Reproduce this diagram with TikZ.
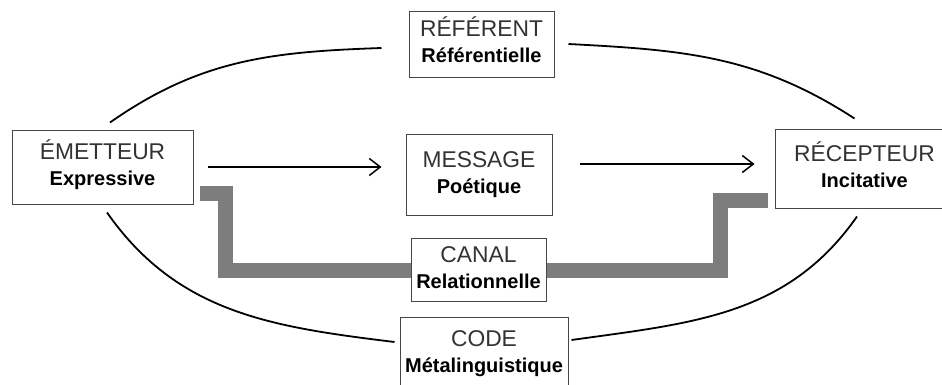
\documentclass[tikz,border=0pt]{standalone}
\usepackage{fontspec}
\setmainfont{Liberation Sans}
\usepackage{tikz}
\usetikzlibrary{arrows.meta}
\definecolor{canalgray}{RGB}{125,125,125}
\definecolor{boxline}{RGB}{70,70,70}

\begin{document}
\begin{tikzpicture}[x=1pt,y=1pt,
    fonction/.style={draw=boxline,line width=1pt,fill=white,inner sep=0pt,
      align=center,text height=41pt,text depth=5pt,
      font=\fontsize{22.8pt}{26pt}\selectfont},
    liaison/.style={line width=1.8pt},
    fleche/.style={line width=1.5pt,-{Straight Barb[length=11pt,width=17pt,line width=1.5pt]}},
    canal line/.style={canalgray,line width=15pt,line join=miter}]
      \useasboundingbox (0,0) rectangle (942,385);
      \def\haut#1{{\color{black!80}#1}}
      \def\bas#1{{\fontsize{20pt}{26pt}\selectfont\bfseries #1}}
      % les six fonctions
      \path (102.5,217) node[fonction,minimum width=181pt,minimum height=74pt] (emet) {\haut{ÉMETTEUR}\\\bas{Expressive}};
      \path (481.5,340) node[fonction,minimum width=145pt,minimum height=66pt] (ref) {\haut{RÉFÉRENT}\\\bas{Référentielle}};
      \path (479,209.5) node[fonction,minimum width=146pt,minimum height=81pt] (mess) {\haut{MESSAGE}\\\bas{Poétique}};
      \path (864.5,215.5) node[fonction,minimum width=179pt,minimum height=79pt] (recep) {\haut{RÉCEPTEUR}\\\bas{Incitative}};
      \path (478.5,114.5) node[fonction,minimum width=135pt,minimum height=63pt] (canal) {\haut{CANAL}\\\bas{Relationnelle}};
      \path (484,30) node[fonction,minimum width=168pt,minimum height=74pt] (code) {\haut{CODE}\\\bas{Métalinguistique}};
      % le canal
      \draw[canal line] ([shift={(6pt,-25.5pt)}]emet.east) -- ++(26pt,0) |- (canal.west);
      \draw[canal line] (canal.east) -- ++(174pt,0) |- ([shift={(-7pt,-31pt)}]recep.west);
      % message
      \draw[fleche,shorten <=14pt,shorten >=24pt] ([yshift=1pt]emet.east) -- ([yshift=1pt]emet.east -| mess.west);
      \draw[fleche,shorten <=27pt,shorten >=20pt] ([yshift=11.5pt]mess.east) -- ([yshift=11.5pt]mess.east -| recep.west);
      % courbes
      \draw[liaison] ([shift={(7.5pt,8pt)}]emet.north) to[out=35,in=182] ([shift={(-27pt,-3pt)}]ref.west);
      \draw[liaison] ([shift={(14pt,1pt)}]ref.east) to[out=-3,in=147] ([shift={(-10pt,11pt)}]recep.north);
      \draw[liaison] ([shift={(4.5pt,-7pt)}]emet.south) to[out=-55,in=173] ([shift={(-5pt,13pt)}]code.west);
      \draw[liaison] ([shift={(3pt,15pt)}]code.east) to[out=8,in=235] ([shift={(-7.5pt,-7pt)}]recep.south);
    \end{tikzpicture}
\end{document}
